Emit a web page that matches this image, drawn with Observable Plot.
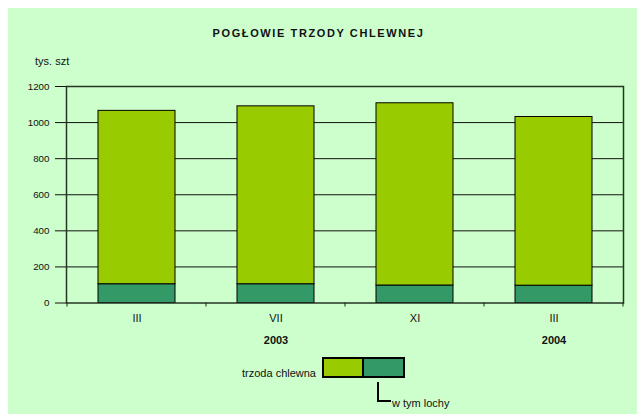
<!DOCTYPE html>
<html>
<head>
<meta charset="utf-8">
<script src="https://cdn.jsdelivr.net/npm/d3@7"></script>
<script src="https://cdn.jsdelivr.net/npm/@observablehq/plot@0.6"></script>
<style>
  html, body { margin: 0; padding: 0; background: #ffffff; }
  #wrap { position: relative; width: 637px; height: 414px; overflow: hidden; font-family: "Liberation Sans", Arial, sans-serif; color: #111; }
  #bg { position: absolute; left: 8px; top: 8px; right: 0; bottom: 0; background: #ccffcc; }
  #chart { position: absolute; left: 0; top: 0; }
  .lbl { position: absolute; white-space: nowrap; font-size: 11px; line-height: 11px; }
  #title { left: 0; width: 637px; text-align: center; top: 28px; font-weight: bold; letter-spacing: 1.6px; }
  #unit { left: 35px; top: 56px; }
  #legText { right: 321px; top: 368px; }
  #legLoch { left: 392px; top: 398px; }
  .box { position: absolute; top: 357px; height: 21px; box-sizing: border-box; border: 2px solid #000; }
  #connector { position: absolute; left: 377px; top: 382px; width: 14px; height: 20px; box-sizing: border-box; border-left: 2px solid #000; border-bottom: 2px solid #000; }
</style>
</head>
<body>
<div id="wrap">
  <div id="bg"></div>
  <div id="chart"></div>
  <div class="lbl" id="title">POGŁOWIE TRZODY CHLEWNEJ</div>
  <div class="lbl" id="unit">tys. szt</div>
  <div id="legend"></div>
</div>
<script>
// ---- data ----
const months = ["III", "VII", "XI", "III"];
const years = ["2003", "2003", "2003", "2004"];
const totals = [1065, 1090, 1107, 1031];     // trzoda chlewna (tys. szt)
const lochy = [104, 104, 97, 96];            // w tym lochy (tys. szt)
const yTicks = [0, 200, 400, 600, 800, 1000, 1200];
const yearLabelIdx = [1, 3];
const seriesNames = ["trzoda chlewna", "w tym lochy"];
const seriesColors = ["#99cc00", "#339966"];
const title = "POGŁOWIE TRZODY CHLEWNEJ";
const unit = "tys. szt";

// ---- derived tables ----
const keys = months.map((m, i) => m + " " + years[i]);
const rows = keys.flatMap((k, i) => [
  {cat: k, series: seriesNames[1], value: lochy[i]},
  {cat: k, series: seriesNames[0], value: totals[i] - lochy[i]}
]);
const yearRows = yearLabelIdx.map(i => ({cat: keys[i], label: years[i]}));

// boundary tick marks between categories, drawn from the band scale
function boundaryTicks(index, scales, values, dims) {
  const x = scales.x, y = scales.y;
  const g = d3.create("svg:g");
  const gap = (x.step() - x.bandwidth()) / 2;
  const y0 = y(0);
  const xs = keys.map(k => x(k) - gap).concat([x(keys[keys.length - 1]) + x.bandwidth() + gap]);
  for (const xv of xs) {
    g.append("line").attr("x1", xv).attr("x2", xv).attr("y1", y0).attr("y2", y0 + 4)
      .attr("stroke", "#222").attr("stroke-width", 1);
  }
  return g.node();
}

const FONT = "'Liberation Sans', Arial, sans-serif";
const NARROW = "'Liberation Sans Narrow', 'Arial Narrow', 'Liberation Sans', Arial, sans-serif";

const chart = Plot.plot({
  width: 637,
  height: 414,
  marginLeft: 66,
  marginRight: 14,
  marginTop: 86,
  marginBottom: 111.5,
  style: {background: "transparent", fontFamily: FONT, color: "#111", overflow: "visible"},
  x: {domain: keys, paddingInner: 0.447, paddingOuter: 0.2235, label: null},
  y: {domain: [0, 1200], label: null},
  color: {domain: seriesNames, range: seriesColors},
  marks: [
    Plot.ruleY(yTicks.filter(v => v > 0 && v < 1200), {stroke: "#111", strokeWidth: 1}),
    Plot.barY(rows, {x: "cat", y: "value", fill: "series", stroke: "#000", strokeWidth: 1}),
    Plot.frame({stroke: "#263626", strokeWidth: 1.5}),
    boundaryTicks,
    Plot.axisY({ticks: yTicks, tickSize: 11, tickPadding: 6, fontSize: 9.8, fontFamily: NARROW, label: null, stroke: "#111", tickFormat: d => String(d)}),
    Plot.axisX({tickSize: 0, tickPadding: 11.5, fontSize: 11, label: null, tickFormat: k => k.split(" ")[0]}),
    Plot.text(yearRows, {x: "cat", text: "label", frameAnchor: "bottom", dy: 41, fontSize: 11, fontWeight: "bold", fill: "#111"})
  ]
});
document.getElementById("chart").appendChild(chart);

// ---- legend (HTML) ----
document.getElementById("title").textContent = title;
document.getElementById("unit").textContent = unit;
const leg = document.getElementById("legend");
leg.innerHTML = "";
const t1 = document.createElement("div");
t1.className = "lbl"; t1.id = "legText"; t1.textContent = seriesNames[0];
leg.appendChild(t1);
const b1 = document.createElement("div");
b1.className = "box"; b1.style.left = "322px"; b1.style.width = "42px"; b1.style.background = seriesColors[0];
leg.appendChild(b1);
const b2 = document.createElement("div");
b2.className = "box"; b2.style.left = "362px"; b2.style.width = "43px"; b2.style.background = seriesColors[1];
leg.appendChild(b2);
const c = document.createElement("div");
c.id = "connector";
leg.appendChild(c);
const t2 = document.createElement("div");
t2.className = "lbl"; t2.id = "legLoch"; t2.textContent = seriesNames[1];
leg.appendChild(t2);
</script>
</body>
</html>
